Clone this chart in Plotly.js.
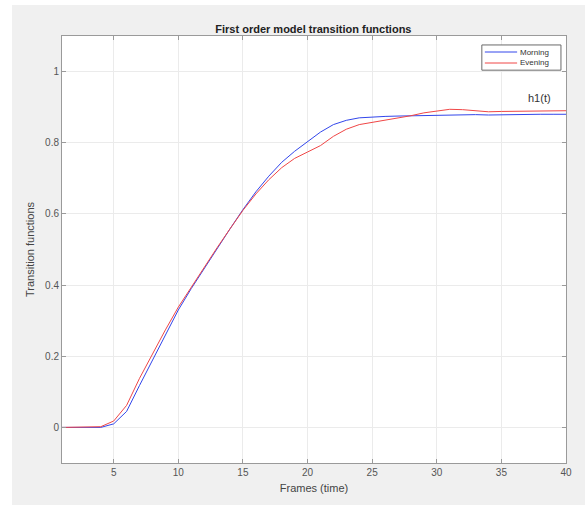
<!DOCTYPE html>
<html>
<head>
<meta charset="utf-8">
<script src="https://cdn.plot.ly/plotly-3.0.1.min.js"></script>
<style>
html,body{margin:0;padding:0;background:#ffffff;width:585px;height:505px;overflow:hidden;}
#chart{position:absolute;left:12px;top:5px;width:573px;height:500px;}
</style>
</head>
<body>
<div id="chart"></div>
<script>
const frames = [1,2,3,4,5,6,7,8,9,10,11,12,13,14,15,16,17,18,19,20,21,22,23,24,25,26,27,28,29,30,31,32,33,34,35,36,37,38,39,40];
const morning = [0,0,0,0,0.010,0.045,0.118,0.190,0.262,0.330,0.390,0.447,0.503,0.558,0.612,0.662,0.706,0.745,0.776,0.802,0.830,0.851,0.863,0.870,0.873,0.874,0.875,0.876,0.877,0.878,0.879,0.880,0.879,0.878,0.879,0.880,0.880,0.880,0.880,0.880];
const evening = [0,0,0,0.002,0.018,0.062,0.138,0.208,0.274,0.338,0.394,0.450,0.505,0.558,0.610,0.656,0.696,0.730,0.756,0.774,0.792,0.818,0.838,0.851,0.857,0.862,0.868,0.876,0.884,0.890,0.894,0.893,0.889,0.887,0.888,0.888,0.889,0.889,0.890,0.890];
const seriesNames = ["Morning","Evening"];
const seriesColors = ["rgb(50,70,235)","rgb(240,70,70)"];
const xTicks = [5,10,15,20,25,30,35,40];
const yTicks = [0,0.2,0.4,0.6,0.8,1];
const yTickText = ["0","0.2","0.4","0.6","0.8","1"];

const font = "Liberation Sans, Arial, sans-serif";
const traces = [
  {x: frames, y: morning, name: seriesNames[0], mode: "lines", line: {color: seriesColors[0], width: 1}},
  {x: frames, y: evening, name: seriesNames[1], mode: "lines", line: {color: seriesColors[1], width: 1}}
];
const axisCommon = {
  showline: true, linecolor: "#9a9a9a", linewidth: 1, mirror: "ticks",
  ticks: "inside", ticklen: 4, tickcolor: "#9a9a9a",
  showgrid: true, gridcolor: "#ebebeb", gridwidth: 1, zeroline: false,
  tickfont: {family: font, size: 10, color: "#555555"}
};

// custom compact legend box (paper coordinates)
const legBox = {x0: 0.833, x1: 0.990, y0: 0.920, y1: 0.979};
const legRows = [1 - 16 / 427, 1 - 27 / 427];
const shapes = [
  {type: "rect", xref: "paper", yref: "paper", x0: legBox.x0, x1: legBox.x1, y0: legBox.y0, y1: legBox.y1, fillcolor: "#ffffff", line: {color: "#6a6a6a", width: 1}, layer: "above"}
];
const annotations = [];
seriesNames.forEach((n, i) => {
  shapes.push({type: "line", xref: "paper", yref: "paper", x0: 0.839, x1: 0.903, y0: legRows[i], y1: legRows[i], line: {color: seriesColors[i], width: 1}, layer: "above"});
  annotations.push({xref: "paper", yref: "paper", x: 0.905, y: legRows[i], text: n, showarrow: false, xanchor: "left", yanchor: "middle", font: {family: font, size: 8, color: "#333333"}});
});
annotations.push({x: 39.0, y: 0.927, xref: "x", yref: "y", text: "h1(t)", showarrow: false, xanchor: "right", yanchor: "middle", font: {family: font, size: 11, color: "#333333"}});

const layout = {
  width: 573, height: 500,
  paper_bgcolor: "#f0f0f0", plot_bgcolor: "#ffffff",
  margin: {l: 50, r: 19, t: 31, b: 42},
  title: {text: "<b>First order model transition functions</b>", font: {family: font, size: 11, color: "#222222"}, x: 0.526, xanchor: "center", y: 0.952, yanchor: "middle"},
  xaxis: Object.assign({}, axisCommon, {range: [1, 40], tickvals: xTicks, title: {text: "Frames (time)", font: {family: font, size: 11, color: "#444444"}, standoff: 7}}),
  yaxis: Object.assign({}, axisCommon, {range: [-0.1, 1.1], tickvals: yTicks, ticktext: yTickText, title: {text: "Transition functions", font: {family: font, size: 11, color: "#444444"}, standoff: 8}}),
  showlegend: false,
  shapes: shapes,
  annotations: annotations
};
Plotly.newPlot("chart", traces, layout, {displayModeBar: false, staticPlot: true});
</script>
</body>
</html>
